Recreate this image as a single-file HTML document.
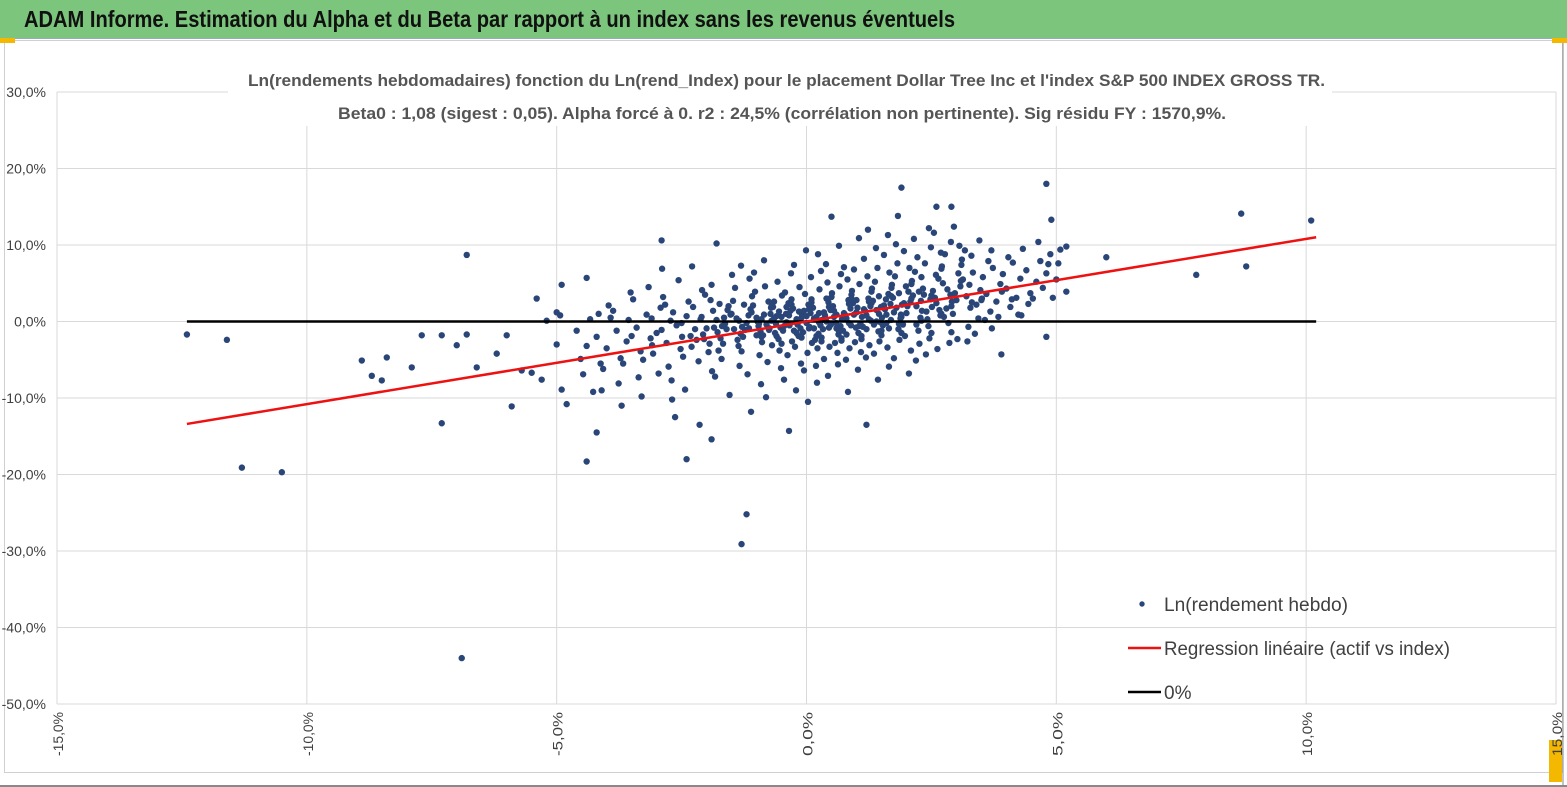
<!DOCTYPE html>
<html><head><meta charset="utf-8">
<style>
html,body{margin:0;padding:0;background:#fff;}
body{width:1567px;height:787px;overflow:hidden;position:relative;font-family:"Liberation Sans Narrow","Liberation Sans",sans-serif;}
#banner{position:absolute;left:0;top:0;width:1567px;height:38px;background:#7cc57c;border-bottom:1px solid #9ab;}
svg{position:absolute;left:0;top:0;}
</style></head><body>
<div id="banner"></div>
<svg id="chart" width="1567" height="787"></svg>
<script>
const xTicks = [-15,-10,-5,0,5,10,15];
const yTicks = [30,20,10,0,-10,-20,-30,-40,-50];
const beta = 1.08;
const lineRange = [-12.4, 10.2];
const weekly = [
[-12.4,-1.7],[-11.6,-2.4],[-11.3,-19.1],[-10.5,-19.7],[-8.9,-5.1],[-8.7,-7.1],[-8.5,-7.7],[-8.4,-4.7],[-7.9,-6.0],[-7.7,-1.8],[-7.3,-1.8],[-7.3,-13.3],[-7.0,-3.1],[-6.8,8.7],[-6.9,-44.0],[-6.8,-1.7],[-6.6,-6.0],[-6.2,-4.2],[-6.0,-1.8],[-5.9,-11.1],[-5.7,-6.4],[-5.5,-6.7],[-5.4,3.0],[-5.3,-7.6],[-5.2,0.1],[-5.0,1.2],[-4.9,4.8],[-4.8,-10.8],[-4.9,-8.9],[-4.4,5.7],[-4.4,-18.3],[-4.2,-14.5],[-2.9,10.6],[-2.4,-18.0],[-1.9,-15.4],[-1.8,10.2],[-1.2,-25.2],[-1.3,-29.1],[1.2,-13.5],[1.9,17.5],[2.6,15.0],[2.9,15.0],[4.8,18.0],[4.9,13.3],[4.8,-2.0],[6.0,8.4],[7.8,6.1],[8.7,14.1],[8.8,7.2],[10.1,13.2],[5.2,3.9],[5.2,9.8],[0.5,13.7],
[-5.0,-3.0],[-4.93,0.8],[-4.6,-1.2],[-4.52,-4.9],[-4.4,-3.2],[-4.33,0.3],[-4.47,-6.9],[-4.2,-2.0],[-4.12,-5.5],[-4.27,-9.2],[-4.16,1.0],
[-4.0,-3.5],[-3.92,0.5],[-4.07,-6.2],[-3.96,2.1],[-4.1,-9.0],
[-3.8,-1.2],[-3.72,-4.8],[-3.87,1.4],[-3.76,-8.1],
[-3.6,-2.6],[-3.52,3.8],[-3.67,-5.5],[-3.56,0.2],[-3.7,-11.0],
[-3.4,-0.8],[-3.32,-3.9],[-3.47,2.9],[-3.36,-7.3],[-3.5,-1.9],
[-3.2,0.9],[-3.12,-2.2],[-3.27,-5.0],[-3.16,4.5],[-3.3,-9.8],[-3.09,-3.1],
[-3.0,-1.5],[-2.92,1.8],[-3.07,-4.2],[-2.96,-6.8],[-3.1,0.4],[-2.89,6.9],
[-2.8,-2.8],[-2.72,0.1],[-2.87,3.2],[-2.76,-5.9],[-2.9,-1.1],[-2.69,-10.2],[-2.83,2.2],
[-2.6,-0.5],[-2.52,-3.6],[-2.67,1.2],[-2.56,5.4],[-2.7,-7.7],[-2.49,-2.0],[-2.63,-12.5],
[-2.4,0.7],[-2.32,-1.9],[-2.47,-4.6],[-2.36,2.6],[-2.5,-0.2],[-2.29,7.2],[-2.43,-8.9],
[-2.2,-2.4],[-2.12,0.3],[-2.27,1.9],[-2.16,-5.2],[-2.3,-3.3],[-2.09,4.1],[-2.23,-1.0],[-2.14,-13.5],
[-2.0,-0.9],[-1.92,2.8],[-2.07,-1.7],[-1.96,-4.0],[-2.1,0.6],[-1.89,-6.5],[-2.03,3.5],[-1.94,-2.9],
[-1.8,0.2],[-1.72,-2.2],[-1.87,1.4],[-1.76,-3.8],[-1.9,4.8],[-1.69,-0.6],[-1.83,-7.2],[-1.74,2.3],[-1.78,-1.4],
[-1.6,-1.0],[-1.52,0.9],[-1.67,-2.9],[-1.56,2.0],[-1.7,-4.9],[-1.49,6.1],[-1.63,-0.3],[-1.54,-9.6],[-1.58,1.5],
[-1.4,0.4],[-1.32,-1.6],[-1.47,2.7],[-1.36,-3.2],[-1.5,1.0],[-1.29,-0.7],[-1.43,4.4],[-1.34,-5.8],[-1.38,-2.4],[-1.31,7.3],
[-1.2,-0.2],[-1.12,1.6],[-1.27,-2.0],[-1.16,0.8],[-1.3,-3.9],[-1.09,3.3],[-1.23,-1.1],[-1.14,5.6],[-1.18,-6.9],[-1.11,-11.8],[-1.25,2.2],
[-1.0,0.5],[-0.92,-1.3],[-1.07,2.1],[-0.96,-0.6],[-1.1,1.2],[-0.89,-2.7],[-1.03,3.9],[-0.94,-4.4],[-0.98,0.0],[-0.91,-8.2],[-1.05,6.4],
[-0.8,-0.4],[-0.72,1.0],[-0.87,-1.8],[-0.76,2.6],[-0.9,0.3],[-0.69,-3.1],[-0.83,4.6],[-0.74,-0.9],[-0.78,-5.3],[-0.71,1.8],[-0.85,8.0],[-0.81,-9.9],
[-0.6,0.7],[-0.52,-0.8],[-0.67,1.9],[-0.56,-2.3],[-0.7,0.1],[-0.49,3.4],[-0.63,-1.5],[-0.54,-3.8],[-0.58,5.2],[-0.51,-6.1],[-0.65,2.6],[-0.61,-0.3],
[-0.4,-0.1],[-0.32,1.4],[-0.47,-1.2],[-0.36,2.4],[-0.5,0.6],[-0.29,-2.6],[-0.43,3.8],[-0.34,-0.5],[-0.38,-4.4],[-0.31,6.3],[-0.45,-7.6],[-0.41,1.0],[-0.35,-14.3],
[-0.2,0.3],[-0.12,-0.9],[-0.27,1.7],[-0.16,-1.9],[-0.3,2.9],[-0.09,0.9],[-0.23,-3.3],[-0.14,4.5],[-0.18,-0.4],[-0.11,-5.5],[-0.25,7.4],[-0.21,-9.0],[-0.15,1.3],
[0.0,-0.2],[0.08,1.1],[-0.07,-1.4],[0.04,2.2],[-0.1,0.5],[0.11,-2.8],[-0.03,3.6],[0.06,-0.7],[0.02,-4.1],[0.09,5.8],[-0.05,-6.4],[-0.01,9.3],[0.05,1.6],[0.03,-10.5],
[0.2,0.6],[0.28,-0.5],[0.13,1.8],[0.24,-1.6],[0.1,2.9],[0.31,0.2],[0.17,-2.4],[0.26,4.2],[0.22,-3.5],[0.29,6.6],[0.15,-0.9],[0.19,-5.8],[0.25,1.1],[0.23,8.8],[0.21,-8.0],
[0.4,0.0],[0.48,1.5],[0.33,-1.0],[0.44,2.5],[0.3,-2.1],[0.51,3.7],[0.37,0.8],[0.46,-3.3],[0.42,5.1],[0.49,-0.4],[0.35,-4.9],[0.39,7.5],[0.45,1.9],[0.43,-7.1],
[0.6,0.9],[0.68,-0.6],[0.53,2.0],[0.64,-1.7],[0.5,3.2],[0.71,0.3],[0.57,-2.8],[0.66,4.6],[0.62,-4.1],[0.69,6.2],[0.55,1.4],[0.59,-0.2],[0.65,9.9],[0.63,-5.6],
[0.8,0.4],[0.88,1.7],[0.73,-1.2],[0.84,2.8],[0.7,-2.2],[0.91,4.0],[0.77,0.9],[0.86,-3.5],[0.82,5.5],[0.89,-0.5],[0.75,7.1],[0.79,-5.0],[0.85,2.3],[0.83,-9.2],
[1.0,1.2],[1.08,-0.3],[0.93,2.4],[1.04,-1.5],[0.9,3.5],[1.11,0.6],[0.97,-2.7],[1.06,4.9],[1.02,1.8],[1.09,-4.0],[0.95,6.8],[0.99,-0.8],[1.05,10.9],[1.03,-6.3],
[1.2,0.8],[1.28,2.0],[1.13,-0.7],[1.24,3.0],[1.1,-1.9],[1.31,4.3],[1.17,1.4],[1.26,-3.1],[1.22,5.9],[1.29,0.1],[1.15,8.2],[1.19,-4.7],[1.25,2.6],[1.23,12.0],
[1.4,1.5],[1.48,-0.1],[1.33,2.7],[1.44,-1.3],[1.3,3.9],[1.51,0.5],[1.37,5.2],[1.46,-2.6],[1.42,7.0],[1.49,1.9],[1.35,-4.2],[1.39,9.6],[1.45,3.3],[1.43,-7.6],
[1.6,0.9],[1.68,2.3],[1.53,-0.5],[1.64,3.6],[1.5,-1.8],[1.71,4.8],[1.57,1.6],[1.66,6.4],[1.62,-3.4],[1.69,0.2],[1.55,8.7],[1.59,2.9],[1.65,-5.9],[1.63,11.3],
[1.8,1.8],[1.88,0.4],[1.73,3.1],[1.84,-1.0],[1.7,4.4],[1.91,2.2],[1.77,5.9],[1.86,-2.4],[1.82,7.6],[1.89,0.9],[1.75,-4.8],[1.79,10.1],[1.85,3.7],[1.83,13.8],
[2.0,1.1],[2.08,2.6],[1.93,-0.4],[2.04,3.9],[1.9,0.6],[2.11,5.3],[1.97,-1.9],[2.06,7.0],[2.02,2.0],[2.09,-3.8],[1.95,9.2],[1.99,4.6],[2.05,-6.8],
[2.2,2.0],[2.28,0.5],[2.13,3.4],[2.24,-1.2],[2.1,4.9],[2.31,1.4],[2.17,6.5],[2.26,-2.9],[2.22,8.4],[2.29,2.7],[2.15,10.8],[2.19,-5.1],[2.25,3.9],
[2.4,1.3],[2.48,2.9],[2.33,4.3],[2.44,-0.6],[2.3,5.8],[2.51,1.9],[2.37,7.6],[2.46,-2.2],[2.42,0.3],[2.49,9.7],[2.35,3.5],[2.39,-4.3],[2.45,12.2],
[2.6,2.4],[2.68,0.8],[2.53,4.0],[2.64,5.6],[2.5,-1.5],[2.71,7.2],[2.57,3.1],[2.66,1.5],[2.62,-3.6],[2.69,9.0],[2.55,11.6],[2.59,6.1],
[2.8,1.7],[2.88,3.5],[2.73,5.0],[2.84,-0.2],[2.7,6.9],[2.91,2.6],[2.77,8.8],[2.86,-2.8],[2.82,4.2],[2.89,10.4],[2.75,0.6],
[3.0,2.8],[3.08,4.6],[2.93,1.0],[3.04,6.3],[2.9,-1.4],[3.11,8.1],[2.97,3.7],[3.06,9.9],[3.02,-2.3],[3.09,5.3],[2.95,12.4],
[3.2,3.3],[3.28,1.8],[3.13,5.5],[3.24,-0.7],[3.1,7.4],[3.31,2.5],[3.17,9.3],[3.26,4.8],[3.22,-2.6],
[3.4,2.2],[3.48,4.1],[3.33,6.4],[3.44,0.4],[3.3,8.6],[3.51,3.0],[3.37,-1.6],[3.46,10.6],
[3.6,3.6],[3.68,1.3],[3.53,5.8],[3.64,7.9],[3.5,2.8],[3.71,-0.9],[3.57,0.2],
[3.8,2.6],[3.88,4.9],[3.73,7.0],[3.84,0.6],[3.7,9.3],[3.91,3.9],
[4.0,4.3],[4.08,1.9],[3.93,6.2],[4.04,8.4],[3.9,-4.3],[4.11,2.9],
[4.2,3.1],[4.28,5.6],[4.13,7.7],[4.24,0.9],
[4.4,6.7],[4.48,3.7],[4.33,9.5],[4.44,2.3],[4.3,0.8],
[4.6,5.2],[4.68,7.9],[4.53,3.0],[4.64,10.4],
[4.8,6.3],[4.88,8.8],[4.73,4.4],[4.84,7.5],
[5.0,5.5],[5.08,9.4],[4.93,3.1],[5.04,7.6],
[-0.95,-0.3],[-0.85,0.9],[-0.75,-1.1],[-0.65,0.4],[-0.55,1.3],[-0.45,-0.6],[-0.35,0.8],[-0.25,-1.2],[-0.15,0.1],[-0.05,1.4],
[0.05,-0.9],[0.15,0.4],[0.25,-0.1],[0.35,1.2],[0.45,-0.8],[0.55,0.6],[0.65,-1.3],[0.75,1.1],[0.85,-0.2],[0.95,0.9],
[1.05,-0.6],[1.15,1.6],[1.25,0.3],[1.35,-0.4],[1.45,1.0],[1.55,2.1],[1.65,-0.9],[1.75,1.2],[1.85,-0.3],[1.95,2.4],
[-0.9,-2.0],[-0.7,2.0],[-0.5,-2.9],[-0.3,2.2],[-0.1,-2.1],[0.1,2.5],[0.3,-2.6],[0.5,1.9],[0.7,-2.5],[0.9,3.0],
[1.1,-2.3],[1.3,2.4],[1.5,-1.2],[1.7,3.3],[1.9,-1.5],[2.1,3.0],[2.3,0.1],[2.5,3.4],[2.7,1.0],[2.9,2.0],
[-1.35,0.1],[-1.15,-0.9],[-1.45,-1.0],[-1.65,0.5],[-1.85,-0.8],[-2.05,-2.3],[-0.6,-1.9],[0.0,0.7],[0.6,-0.9],[1.2,-1.0],
[-0.2,-1.5],[0.4,3.0],[0.8,-1.7],[1.4,0.0],[1.0,2.8],[0.2,-1.9],[-0.4,1.9],[1.6,-0.2],[2.2,-0.4],[-1.0,-1.8]
];

const NS = 'http://www.w3.org/2000/svg';
const svg = document.getElementById('chart');
const L = 57, R = 1556, T = 92, B = 704;
function xs(v){ return L + (v + 15) / 30 * (R - L); }
function ys(v){ return T + (30 - v) / 80 * (B - T); }
function mk(tag, attrs, parent){ const e = document.createElementNS(NS, tag); for (const k in attrs) e.setAttribute(k, attrs[k]); (parent || svg).appendChild(e); return e; }
function fmt(v){ return v.toFixed(1).replace('.', ',') + '%'; }

// banner title
const bt = mk('text', {x:24, y:27, 'font-size':23, 'font-weight':'bold', fill:'#111', textLength:931, lengthAdjust:'spacingAndGlyphs'});
bt.textContent = 'ADAM Informe. Estimation du Alpha et du Beta par rapport à un index sans les revenus éventuels';



// frame
const frame = mk('rect', {x:4.5, y:40.5, width:1558, height:732, fill:'none', stroke:'#d0d0d0'});


mk('line', {x1:0, y1:786, x2:1567, y2:786, stroke:'#888', 'stroke-width':2});
mk('line', {x1:1563, y1:40, x2:1563, y2:787, stroke:'#888', 'stroke-width':1});
mk('rect', {x:0, y:38, width:15, height:5, fill:'#f5b800'});
mk('rect', {x:1552, y:38, width:15, height:5, fill:'#f5b800'});
mk('rect', {x:1549, y:740, width:13, height:42, fill:'#f5b800'});

// gridlines and ticks
xTicks.forEach(t => {
  const g = mk('line', {x1:xs(t), y1:T, x2:xs(t), y2:B, stroke:'#d9d9d9', 'stroke-width':1});
  
  
  const tx = mk('text', {x:0, y:0, transform:`translate(${xs(t)+6},${B+8}) rotate(-90)`, 'text-anchor':'end', 'font-size':14, fill:'#404040', textLength:44, lengthAdjust:'spacingAndGlyphs'});
  tx.textContent = fmt(t);
  
  
});
yTicks.forEach(t => {
  const g = mk('line', {x1:L, y1:ys(t), x2:R, y2:ys(t), stroke:'#d9d9d9', 'stroke-width':1});
  
  
  const tx = mk('text', {x:46, y:ys(t)+5, 'text-anchor':'end', 'font-size':14, fill:'#404040'});
  tx.textContent = fmt(t);
  
  
});

// title box
mk('rect', {x:228, y:70, width:1104, height:56, fill:'#fff'});
const t1 = mk('text', {x:248, y:86, 'font-size':17, 'font-weight':'bold', fill:'#555', textLength:1077, lengthAdjust:'spacingAndGlyphs'});
t1.textContent = "Ln(rendements hebdomadaires) fonction du Ln(rend_Index) pour le placement Dollar Tree Inc et l'index S&P 500 INDEX GROSS TR.";


const t2 = mk('text', {x:338, y:119, 'font-size':17, 'font-weight':'bold', fill:'#555', textLength:888, lengthAdjust:'spacingAndGlyphs'});
t2.textContent = "Beta0 : 1,08 (sigest : 0,05). Alpha forcé à 0. r2 : 24,5% (corrélation non pertinente). Sig résidu FY : 1570,9%.";



// points
weekly.forEach(p => {
  const c = mk('circle', {cx:xs(p[0]), cy:ys(p[1]), r:3.2, fill:'#2a4678'});
  
  
});

// zero line
const z = mk('line', {x1:xs(lineRange[0]), y1:ys(0), x2:xs(lineRange[1]), y2:ys(0), stroke:'#000', 'stroke-width':2.5});


// regression
const rl = mk('line', {x1:xs(lineRange[0]), y1:ys(beta*lineRange[0]), x2:xs(lineRange[1]), y2:ys(beta*lineRange[1]), stroke:'#ee1111', 'stroke-width':2.5});



// legend
const lg = mk('g', {});


mk('circle', {cx:1142, cy:604, r:2.7, fill:'#2a4678'}, lg);
const l1 = mk('text', {x:1164, y:611, 'font-size':19, fill:'#404040', textLength:184, lengthAdjust:'spacingAndGlyphs'}, lg);
l1.textContent = 'Ln(rendement hebdo)';


mk('line', {x1:1128, y1:648, x2:1161, y2:648, stroke:'#ee1111', 'stroke-width':2.5}, lg);
const l2 = mk('text', {x:1164, y:655, 'font-size':19, fill:'#404040', textLength:286, lengthAdjust:'spacingAndGlyphs'}, lg);
l2.textContent = 'Regression linéaire (actif vs index)';


mk('line', {x1:1128, y1:692, x2:1161, y2:692, stroke:'#000', 'stroke-width':2.5}, lg);
const l3 = mk('text', {x:1164, y:699, 'font-size':19, fill:'#404040'}, lg);
l3.textContent = '0%';


</script>
</body></html>
